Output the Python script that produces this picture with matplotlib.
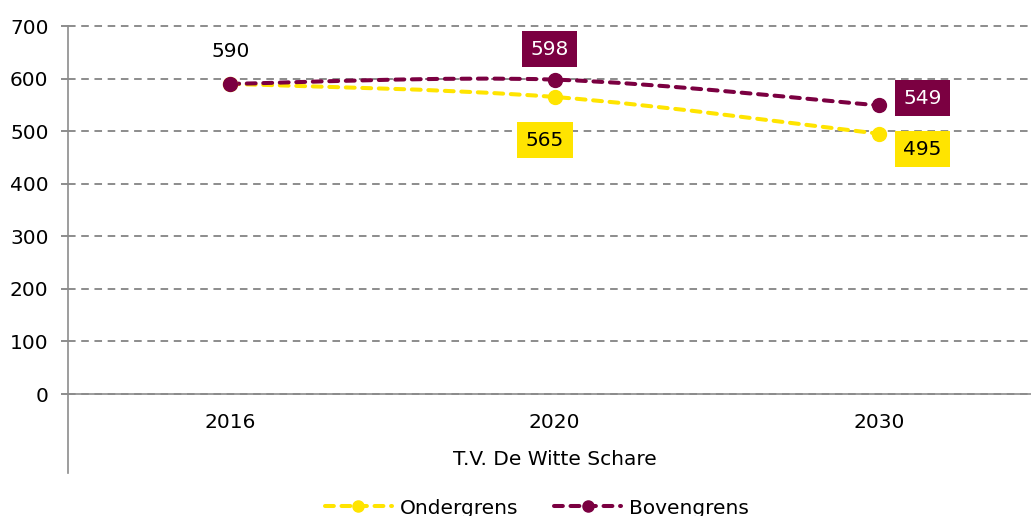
import numpy as np
import matplotlib.pyplot as plt
from matplotlib.path import Path
from matplotlib.patches import PathPatch
from matplotlib.lines import Line2D

years = ["2016", "2020", "2030"]
ondergrens = [590, 565, 495]
bovengrens = [590, 598, 549]
group_label = "T.V. De Witte Schare"

YELLOW = "#FFE400"
MAROON = "#7B0041"
GRID = "#8C8C8C"
FS = 14.5
LW = 2.9


def smooth_path(xs, ys):
    """Excel-style smoothed line as cubic Bezier segments."""
    pts = np.column_stack([xs, ys]).astype(float)
    n = len(pts)
    verts = [pts[0]]
    codes = [Path.MOVETO]
    for i in range(n - 1):
        p_prev = pts[max(i - 1, 0)]
        p0, p1 = pts[i], pts[i + 1]
        p_next = pts[min(i + 2, n - 1)]
        c1 = p0 + (p1 - p_prev) / 6
        c2 = p1 - (p_next - p0) / 6
        verts += [c1, c2, p1]
        codes += [Path.CURVE4] * 3
    return Path(verts, codes)


fig = plt.figure(figsize=(10.31, 5.16), dpi=100)
ax = fig.add_axes([68 / 1031, 122 / 516, (1041.5 - 68) / 1031, 368 / 516])

x = np.arange(len(years))
dash = (2.2, 1.9)
for vals, color in [(ondergrens, YELLOW), (bovengrens, MAROON)]:
    patch = PathPatch(smooth_path(x, vals), fill=False, edgecolor=color,
                      lw=LW, linestyle=(0, dash), zorder=3, capstyle="round")
    ax.add_patch(patch)
    ax.plot(x, vals, "o", color=color, ms=10, zorder=4)

ax.set_xlim(-0.5, 2.5)
ax.set_ylim(0, 700)
ax.set_yticks(range(0, 701, 100))
ax.set_xticks(x)
ax.set_xticklabels(years)
ax.tick_params(axis="x", length=0, pad=14, labelsize=FS)
ax.tick_params(axis="y", length=5, width=1.4, color=GRID, pad=9, labelsize=FS)
ax.grid(axis="y", color=GRID, ls=(0, (3.9, 2.9)), lw=1.4)
for gl in ax.get_ygridlines():
    gl.set_clip_on(False)
ax.set_axisbelow(True)
for s in ["top", "right"]:
    ax.spines[s].set_visible(False)
for s in ["left", "bottom"]:
    ax.spines[s].set_color(GRID)
    ax.spines[s].set_linewidth(1.2)

# extended category axis line below zero
ax.plot([0, 0], [0, -150], color=GRID, lw=1.2,
        transform=ax.get_yaxis_transform(), clip_on=False)
ax.text(0.5, -0.178, group_label, transform=ax.transAxes, ha="center",
        va="center", fontsize=FS)

# data labels
ax.annotate(str(bovengrens[0]), (x[0], bovengrens[0]), xytext=(0, 23),
            textcoords="offset points", ha="center", va="center", fontsize=FS)
box = dict(boxstyle="square,pad=0.42", lw=0)
ax.annotate(str(bovengrens[1]), (x[1], bovengrens[1]), xytext=(-4, 22),
            textcoords="offset points", ha="center", va="center", fontsize=FS,
            color="white", bbox=dict(box, fc=MAROON))
ax.annotate(str(ondergrens[1]), (x[1], ondergrens[1]), xytext=(-7, -31),
            textcoords="offset points", ha="center", va="center", fontsize=FS,
            color="black", bbox=dict(box, fc=YELLOW))
ax.annotate(str(bovengrens[2]), (x[2], bovengrens[2]), xytext=(31, 5),
            textcoords="offset points", ha="center", va="center", fontsize=FS,
            color="white", bbox=dict(box, fc=MAROON))
ax.annotate(str(ondergrens[2]), (x[2], ondergrens[2]), xytext=(31, -11),
            textcoords="offset points", ha="center", va="center", fontsize=FS,
            color="black", bbox=dict(box, fc=YELLOW))

handles = [Line2D([], [], color=YELLOW, lw=LW, ls=(0, dash), marker="o", ms=8,
                  dash_capstyle="round"),
           Line2D([], [], color=MAROON, lw=LW, ls=(0, dash), marker="o", ms=8,
                  dash_capstyle="round")]
fig.legend(handles, ["Ondergrens", "Bovengrens"], loc="center",
           bbox_to_anchor=(537 / 1031, 1 - 508 / 516), ncol=2, frameon=False,
           fontsize=FS, handlelength=3.35, columnspacing=1.75, handletextpad=0.4)

fig.savefig("out.png", dpi=100)
